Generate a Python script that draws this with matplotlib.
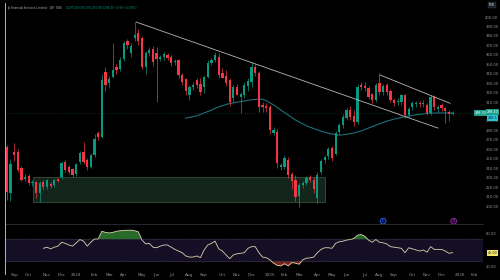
import matplotlib
matplotlib.use('Agg')
import matplotlib.pyplot as plt
import numpy as np
import pandas as pd

# weekly candles, Jio Financial Services (NSE), from listing week
start_date = '2023-08-21'
opens = [262, 214, 257, 257, 240, 229, 232, 224, 225, 214,
         225, 220, 223, 222, 228.5, 230.5, 246.5, 241, 239, 234,
         246.5, 257, 248.5, 241.5, 254, 277, 273, 342, 330, 337,
         347, 345, 355.5, 374.5, 362, 378, 383, 378, 347, 362,
         366, 362, 355.5, 357.5, 360, 357.5, 352, 354.5, 338.5, 334,
         318, 326, 333, 329, 326, 336.5, 351.5, 354.5, 358, 341,
         338, 333, 314, 326, 315, 318, 327, 331, 347, 341,
         307, 306, 305, 277, 278.5, 241, 241.5, 248.5, 234, 228,
         210.5, 222, 224.5, 230.5, 228, 208, 236, 248.5, 253, 261.5,
         255, 278.5, 285.5, 293, 302, 295, 289, 328, 327, 325,
         318.5, 312, 330, 320.5, 328, 321.5, 312, 310, 310, 317.5,
         296.5, 304.5, 308, 309.5, 308, 307, 298.5, 315.5, 303, 307,
         303.5, 299.5, 297.5]
highs = [265, 250, 267, 260, 242, 234, 234, 228, 227, 226,
         228, 229, 225, 229, 230, 248, 249, 243, 240, 246,
         258, 268, 251, 256, 276, 279, 340, 347, 338, 373,
         350, 358, 375, 377, 372, 394.7, 387, 380, 364, 368,
         369, 368, 360, 363, 362, 360, 356, 356, 341, 336,
         328, 331, 336, 335, 338, 354, 357, 363, 362, 346,
         344, 335, 328, 329, 321, 331, 335, 352, 350, 343,
         310, 309, 307, 284, 281, 246, 254, 252, 236, 233,
         224, 227, 232, 233, 231, 236, 250, 254, 262, 264,
         279, 288, 297, 304, 306, 302, 329, 331, 331, 327,
         320, 330, 341, 329, 330, 324, 314, 314, 319, 319,
         305, 311, 311, 311, 312, 309, 317, 317, 307, 309,
         305, 302, 301]
lows = [206, 205, 248, 236, 226, 226, 222, 221, 208, 204,
        217, 218, 219, 220, 225, 229, 236, 234, 231, 232,
        245, 245, 238, 240, 252, 270, 272, 322, 325, 335,
        340, 343, 353, 366, 358, 375, 370, 345, 340, 359,
        348, 310, 353, 355, 354, 348, 349, 336, 328, 318,
        312, 323, 325, 317, 320, 335, 349, 352, 336, 335,
        327, 306, 310, 317, 298, 314, 322, 326, 338, 300,
        300, 299, 276, 275, 240, 238, 239, 230, 218, 205,
        198.65, 219, 222, 225, 214, 203, 234, 246, 250, 248,
        254, 276, 283, 291, 291, 285, 287, 323, 322, 313,
        309, 310, 318, 318, 318, 310, 306, 307, 307, 293,
        294, 302, 305, 305, 305, 296, 296, 302, 300, 301,
        288, 290, 296]
closes = [215, 245, 254, 238, 228, 231, 224, 225.5, 214, 224,
          220, 227.5, 221, 227.5, 226.5, 245.5, 238, 236, 233, 244.5,
          256, 246.5, 241.5, 254, 271, 273, 333, 328, 334.5, 344,
          344, 354.5, 372.5, 370.5, 369, 381, 374.5, 347, 362, 365,
          352, 355.5, 357.5, 361, 356.5, 351.5, 353, 338.5, 331, 322,
          326, 328, 328, 320.5, 336.5, 351.5, 354.5, 360, 338.5, 336,
          330, 310, 326, 318, 318.5, 328, 332, 347, 341, 305,
          305, 303.5, 280.5, 280.5, 245.5, 243.5, 251, 233, 226, 209.5,
          222, 224.5, 229.5, 227.5, 218, 233, 247.5, 252, 260.5, 250.5,
          277, 285.5, 294, 301.5, 294, 289, 326, 326, 325, 315.5,
          312, 328, 320.5, 327, 320.5, 312, 309, 311, 317.5, 296.5,
          302.5, 309, 309.5, 308, 309, 298.5, 315.5, 305, 305, 303.5,
          300.5, 297.5, 298.4]

# moving average, starting at week 49
ma_start = 49
ma = [293, 293.8, 294.6, 295.5, 297, 298.5, 300, 301.5, 303.3, 305,
      306.2, 307.4, 308.5, 309.2, 309.8, 310.5, 311.2, 311.9, 312.5, 312.8,
      313, 313, 311.5, 309.3, 307, 304.3, 301.6, 299, 296.3, 293.6,
      291, 289, 287, 285, 283.4, 282, 280.5, 279.3, 278.1, 277,
      276.2, 275.5, 275, 275.4, 275.9, 276.5, 277.4, 278.4, 279.5, 281,
      282.5, 284, 285.5, 287, 288.5, 289.7, 290.9, 292, 292.8, 293.7,
      294.5, 295.2, 295.9, 296.5, 297, 297.5, 298, 298.2, 298.4, 298.5,
      298.5, 298.5, 298.5, 298.5]

rsi_start = 10
rsi = [53, 55, 52, 55, 57, 64, 62, 59, 57, 63,
       69, 66, 57, 64, 70, 70, 84, 82, 81, 82,
       84, 85, 85.5, 86, 86, 85, 83, 68, 61, 62,
       55, 54, 57, 59, 59, 55, 51, 48, 45, 39,
       37, 37, 39, 36, 50, 59, 62, 66, 52, 48,
       41, 34, 41, 43, 44, 45, 53, 56, 56, 45,
       37, 36, 32, 26, 22, 21, 25, 21, 27, 26,
       24, 32, 35, 35.5, 37, 45, 51, 54, 54, 53,
       62, 65, 66, 68, 69, 71, 77, 78, 75, 68,
       64, 69, 64, 63, 61, 56, 55, 54, 53, 45,
       54, 52, 50, 48, 50, 46, 56, 51, 51, 51,
       48, 44, 45]

# drawn annotations (week index, price)
trend_main = [(35.4, 394.7), (118.0, 282.5)]
trend_channel = [(102.2, 338.6), (121.3, 308.7)]
demand_zone = (7.1, 87.2, 204.2, 230.7)
price_ticks = list(range(200, 401, 10))

UP = '#089981'
DOWN = '#f23645'
BG = '#000000'
TXT = '#8f939c'

n = len(closes)
x = np.arange(n)
o = np.array(opens, float)
h = np.array(highs, float)
l = np.array(lows, float)
c = np.array(closes, float)
cols = [UP if cc >= oo else DOWN for oo, cc in zip(o, c)]

fig = plt.figure(figsize=(5, 2.8), dpi=100, facecolor=BG)
ax = fig.add_axes([0.01, 0.2, 0.955, 0.8], facecolor=BG)
axr = fig.add_axes([0.01, 0.036, 0.955, 0.164], facecolor=BG, sharex=ax)

# demand zone
x0, x1, y0, y1 = demand_zone
ax.add_patch(plt.Rectangle((x0, y0), x1 - x0, y1 - y0, facecolor='#13241a',
                           edgecolor='#33503c', lw=0.6, zorder=1))

# last price line
ax.axhline(c[-1], color='#0e4a44', lw=0.5, ls=(0, (1, 2)), zorder=1)

# candles
ax.vlines(x, l, h, colors=cols, lw=0.5, zorder=3)
body_lo = np.minimum(o, c)
body_h = np.maximum(np.abs(c - o), 0.9)
ax.bar(x, body_h, bottom=body_lo, width=0.62, color=cols, lw=0, zorder=4)

# moving average
xm = np.arange(ma_start, ma_start + len(ma))
ax.plot(xm, ma, color='#1f6f78', lw=0.8, zorder=2)

# trendlines
for line in (trend_main, trend_channel):
    ax.plot([p[0] for p in line], [p[1] for p in line], color='#b8b8b8', lw=0.6, zorder=5)

# event markers
ax.scatter([103, 122.3], [184, 184], s=18, facecolors=['#0b1433', '#1e0b26'],
           edgecolors=['#2962ff', '#9c27b0'], lw=0.6, zorder=5, clip_on=False)
ax.text(103, 184, 'E', color='#2962ff', fontsize=2.2, ha='center', va='center', zorder=6)
ax.text(122.3, 184, 'D', color='#b040c8', fontsize=2.2, ha='center', va='center', zorder=6)

ax.set_ylim(181, 418)
ax.set_xlim(-0.5, 130.2)
ax.yaxis.tick_right()
ax.set_yticks([p for p in price_ticks if p != 300])
ax.set_yticklabels([f'{p:.2f}' for p in price_ticks if p != 300])
ax.tick_params(axis='y', length=0, pad=2, labelsize=2.7, colors=TXT)
ax.tick_params(axis='x', bottom=False, labelbottom=False)
for s in ax.spines.values():
    s.set_visible(False)

# RSI pane
xr = np.arange(rsi_start, rsi_start + len(rsi))
rv = np.array(rsi, float)
axr.axhspan(30, 70, color='#140f24', zorder=0)
axr.axhline(70, color='#5a5a66', lw=0.4, ls=(0, (2, 2)))
axr.axhline(30, color='#5a5a66', lw=0.4, ls=(0, (2, 2)))
axr.fill_between(xr, 70, rv, where=rv > 70, interpolate=True, color='#2f7d32', alpha=0.85, lw=0)
axr.fill_between(xr, 30, rv, where=rv < 30, interpolate=True, color='#8a2a1c', alpha=0.85, lw=0)
axr.plot(xr, rv, color='#d9d2b0', lw=0.6)
axr.set_ylim(13.6, 97.3)
axr.yaxis.tick_right()
axr.set_yticks([20, 80])
axr.set_yticklabels(['20.00', '80.00'])
axr.tick_params(axis='y', length=0, pad=2, labelsize=2.7, colors=TXT)
for s in axr.spines.values():
    s.set_visible(False)
axr.spines['top'].set_visible(True)
axr.spines['top'].set_color('#2a2e39')
axr.spines['top'].set_linewidth(0.6)

# month ticks
all_dates = pd.date_range(start_date, periods=132, freq='7D')
tick_pos, tick_lab = [], []
for i in range(1, len(all_dates)):
    d = all_dates[i]
    if d.month != all_dates[i - 1].month:
        tick_pos.append(i)
        tick_lab.append(str(d.year) if d.month == 1 else d.strftime('%b'))
axr.set_xticks(tick_pos)
axr.set_xticklabels(tick_lab)
axr.tick_params(axis='x', length=0, pad=2, labelsize=3, colors=TXT)

# header
fig.text(0.015, 0.972, 'Jio Financial Services Limited · 1W · NSE', color='#b2b5be',
         fontsize=2.0, va='center')
fig.text(0.132, 0.972, 'O297.50 H301.00 L296.00 C298.40 +0.90 (+0.30%)', color=UP,
         fontsize=2.0, va='center')
fig.text(0.983, 0.982, 'INR', color='#d1d4dc', fontsize=2.4, ha='center', va='center',
         bbox=dict(boxstyle='square,pad=0.3', fc='#1e222d', ec='#3a3e49', lw=0.3))

# price labels on the axis
y_price = ax.transData.transform((0, c[-1]))[1] / fig.bbox.height
fig.text(0.962, y_price, f'{ma[-1]:.2f}', color='white', fontsize=2.4, ha='center',
         va='center', bbox=dict(boxstyle='square,pad=0.3', fc='#1f9e89', ec='none'))
fig.text(0.985, y_price + 0.004, f'{c[-1]:.2f}', color='white', fontsize=2.4, ha='center',
         va='center', bbox=dict(boxstyle='square,pad=0.3', fc='#1f9e89', ec='none'))
fig.text(0.985, y_price - 0.018, f'{ma[-1]:.1f}', color='#0b2a30', fontsize=2.4,
         ha='center', va='center', bbox=dict(boxstyle='square,pad=0.3', fc='#27c2d6', ec='none'))
y_rsi = axr.transData.transform((0, rsi[-1]))[1] / fig.bbox.height
fig.text(0.985, y_rsi, f'{rsi[-1]:.2f}', color='#222', fontsize=2.4, ha='center', va='center',
         bbox=dict(boxstyle='square,pad=0.3', fc='#f5e663', ec='none'))

# screenshot border on the left
fig.add_artist(plt.Line2D([0.01, 0.01], [0.02, 0.99], color='#d0d0d0', lw=0.6))

fig.savefig('out.png', dpi=100, facecolor=BG)
